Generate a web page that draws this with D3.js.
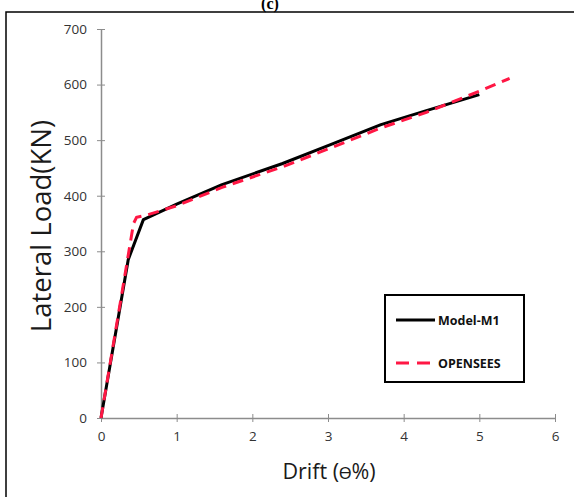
<!DOCTYPE html>
<html><head><meta charset="utf-8">
<script src="https://cdn.jsdelivr.net/npm/d3@7"></script>
<style>body{margin:0;background:#fff}svg{display:block}</style>
</head><body>
<script>
const modelDrift = [0, 0.36, 0.56, 1.0, 1.6, 2.4, 3.0, 3.7, 4.3, 5.0];
const modelLoad  = [0, 285, 357, 385, 420, 458, 490, 528, 553, 582];
const osDrift = [0, 0.43, 0.47, 0.6, 1.0, 1.6, 2.4, 3.0, 3.7, 4.3, 5.0, 5.4];
const osLoad  = [0, 350, 361, 365, 382, 415, 452, 484, 522, 550, 588, 611];
const xTicks = [0, 1, 2, 3, 4, 5, 6];
const yTicks = [0, 100, 200, 300, 400, 500, 600, 700];
const seriesNames = ["Model-M1", "OPENSEES"];

const W = 574, H = 497;
const svg = d3.select("body").append("svg").attr("width", W).attr("height", H);
const font = "'Open Sans', 'Liberation Sans', sans-serif";

// frame
svg.append("rect").attr("x", 6).attr("y", 12).attr("width", 600).attr("height", 520)
  .attr("fill", "none").attr("stroke", "#000").attr("stroke-width", 1.5);
svg.append("text").attr("x", 270).attr("y", 9).attr("text-anchor", "middle")
  .attr("font-family", "'Liberation Serif', serif").attr("font-weight", "bold").attr("font-size", 16)
  .text("(c)");

const x = d3.scaleLinear().domain([0, 6]).range([101, 555]);
const y = d3.scaleLinear().domain([0, 700]).range([418, 29]);

// axes
const xAxis = svg.append("g").attr("transform", `translate(0,${y(0)})`)
  .call(d3.axisBottom(x).tickValues(xTicks).tickSize(0).tickPadding(13).tickFormat(d3.format("d")));
xAxis.select(".domain").attr("stroke", "#8c8c8c").attr("stroke-width", 1.5);
xAxis.selectAll(".tick").append("line").attr("y1", -4).attr("y2", 4).attr("stroke", "#8c8c8c");
const yAxis = svg.append("g").attr("transform", `translate(${x(0)},0)`)
  .call(d3.axisLeft(y).tickValues(yTicks).tickSize(0).tickPadding(14));
yAxis.select(".domain").attr("stroke", "#8c8c8c").attr("stroke-width", 1.5);
yAxis.selectAll(".tick").append("line").attr("x1", -4).attr("x2", 4).attr("stroke", "#8c8c8c");
svg.selectAll(".tick text").attr("font-family", font).attr("font-size", 13.5).attr("fill", "#333");

// axis titles
const xt = svg.append("text").attr("x", 329).attr("y", 479).attr("text-anchor", "middle")
  .attr("font-family", font).attr("font-size", 21.5).attr("fill", "#1a1a1a");
xt.append("tspan").text("Drift (");
xt.append("tspan").attr("font-size", 16).text("ϴ");
xt.append("tspan").text("%)");
svg.append("text").attr("transform", "translate(51,226) rotate(-90)").attr("text-anchor", "middle")
  .attr("font-family", font).attr("font-size", 27.5).attr("fill", "#1a1a1a").text("Lateral Load(KN)");

const line = d3.line().x(d => x(d[0])).y(d => y(d[1]));
const modelData = modelDrift.map((d, i) => [d, modelLoad[i]]);
const osData = osDrift.map((d, i) => [d, osLoad[i]]);

svg.append("path").datum(modelData).attr("d", line).attr("fill", "none")
  .attr("stroke", "#000").attr("stroke-width", 3).attr("stroke-linejoin", "round");
svg.append("path").datum(osData).attr("d", line).attr("fill", "none")
  .attr("stroke", "#ff1744").attr("stroke-width", 3).attr("stroke-dasharray", "11,7");

// legend
const lg = svg.append("g");
lg.append("rect").attr("x", 385).attr("y", 295).attr("width", 139).attr("height", 87)
  .attr("fill", "#fff").attr("stroke", "#000").attr("stroke-width", 2);
lg.append("line").attr("x1", 396).attr("x2", 435).attr("y1", 320).attr("y2", 320)
  .attr("stroke", "#000").attr("stroke-width", 3);
lg.append("line").attr("x1", 396).attr("x2", 435).attr("y1", 363).attr("y2", 363)
  .attr("stroke", "#ff1744").attr("stroke-width", 3).attr("stroke-dasharray", "13,8");
lg.append("text").attr("x", 438).attr("y", 325).attr("font-family", font).attr("font-weight", "bold")
  .attr("font-size", 12.5).attr("fill", "#111").text(seriesNames[0]);
lg.append("text").attr("x", 438).attr("y", 368).attr("font-family", font).attr("font-weight", "bold")
  .attr("font-size", 12.5).attr("fill", "#111").text(seriesNames[1]);
</script>
</body></html>
